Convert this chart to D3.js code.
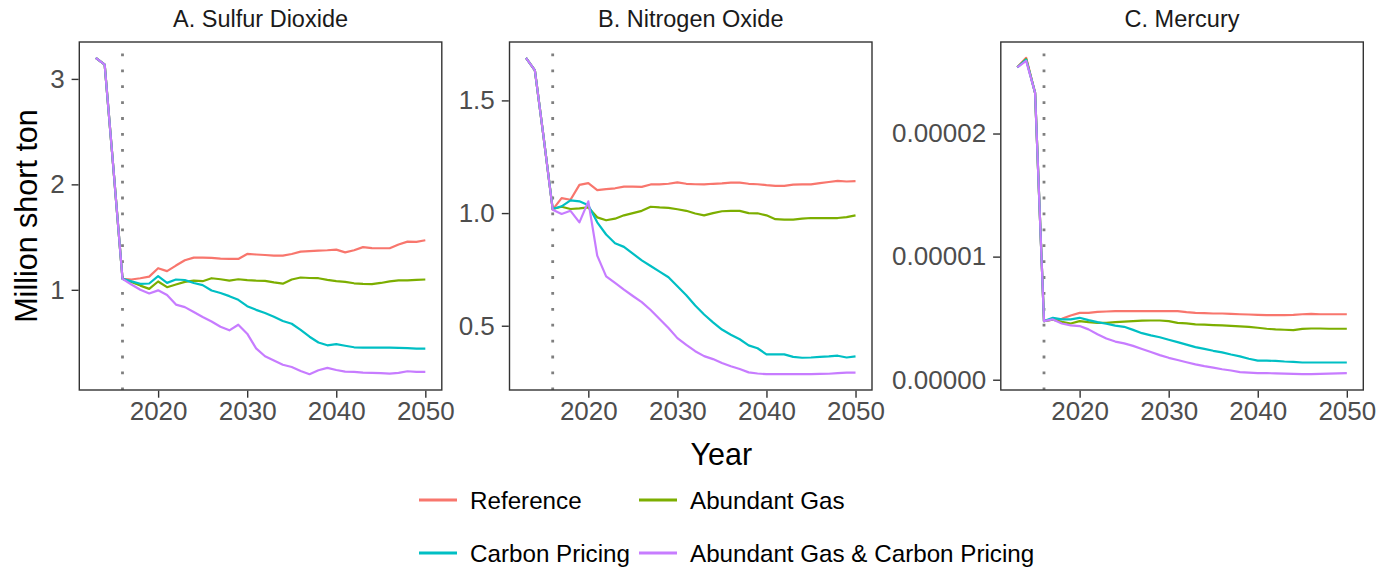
<!DOCTYPE html>
<html>
<head>
<meta charset="utf-8">
<script src="https://cdn.jsdelivr.net/npm/d3@7"></script>
<style>
  html, body { margin: 0; padding: 0; background: #fff; }
  svg { display: block; font-family: "Liberation Sans", Arial, sans-serif; }
</style>
</head>
<body>
<svg id="chart" width="1383" height="569"></svg>
<script>
// ---------- DATA ----------
const years = [2013,2014,2015,2016,2017,2018,2019,2020,2021,2022,2023,2024,2025,2026,2027,2028,2029,2030,
  2031,2032,2033,2034,2035,2036,2037,2038,2039,2040,2041,2042,2043,2044,2045,2046,2047,2048,2049,2050];
const scenarios = ["Reference", "Abundant Gas", "Carbon Pricing", "Abundant Gas & Carbon Pricing"];
const scenarioColors = ["#F8766D", "#7CAE00", "#00BFC4", "#C77CFF"];
const panelTitles = ["A. Sulfur Dioxide", "B. Nitrogen Oxide", "C. Mercury"];
const yAxisTitle = "Million short ton";
const xAxisTitle = "Year";
const xTicks = [2020, 2030, 2040, 2050];
const policyYear = 2016;

// A. Sulfur dioxide (million short tons)
const so2Reference = [3.20,3.136,2.13,1.105,1.098,1.11,1.125,1.205,1.177,1.23,1.28,1.305,1.306,1.303,1.295,1.293,1.293,1.34,
  1.335,1.33,1.324,1.325,1.34,1.362,1.367,1.372,1.375,1.381,1.355,1.375,1.405,1.395,1.394,1.394,1.43,1.457,1.455,1.47];
const so2AbundantGas = [3.20,3.136,2.13,1.105,1.075,1.04,1.009,1.079,1.025,1.05,1.075,1.088,1.082,1.11,1.1,1.088,1.1,1.092,
  1.087,1.085,1.07,1.058,1.098,1.117,1.112,1.11,1.095,1.082,1.075,1.062,1.056,1.054,1.065,1.08,1.09,1.09,1.095,1.098];
const so2CarbonPricing = [3.20,3.136,2.13,1.104,1.08,1.057,1.06,1.129,1.066,1.098,1.093,1.065,1.045,0.994,0.97,0.94,0.905,0.845,
  0.81,0.78,0.745,0.705,0.678,0.62,0.555,0.5,0.474,0.485,0.47,0.455,0.452,0.452,0.452,0.452,0.45,0.447,0.443,0.443];
const so2GasCarbon = [3.20,3.136,2.13,1.104,1.05,1.0,0.965,0.995,0.95,0.86,0.836,0.79,0.742,0.70,0.65,0.616,0.669,0.584,
  0.445,0.37,0.33,0.29,0.268,0.23,0.2,0.237,0.26,0.24,0.225,0.222,0.215,0.212,0.21,0.206,0.212,0.228,0.222,0.222];
const so2Ticks = [1, 2, 3];

// B. Nitrogen oxide (million short tons)
const noxReference = [1.689,1.633,1.33,1.015,1.066,1.059,1.125,1.133,1.102,1.106,1.11,1.117,1.117,1.116,1.127,1.127,1.13,1.136,
  1.13,1.128,1.127,1.13,1.132,1.135,1.135,1.13,1.128,1.124,1.121,1.121,1.126,1.127,1.127,1.133,1.138,1.143,1.14,1.142];
const noxAbundantGas = [1.689,1.633,1.33,1.018,1.028,1.018,1.021,1.025,0.981,0.968,0.975,0.99,1.0,1.01,1.028,1.025,1.023,1.017,
  1.01,0.998,0.99,1.0,1.008,1.01,1.01,1.0,0.999,0.99,0.973,0.971,0.971,0.975,0.978,0.978,0.978,0.978,0.982,0.99];
const noxCarbonPricing = [1.689,1.633,1.33,1.018,1.03,1.056,1.052,1.035,0.959,0.905,0.866,0.85,0.82,0.79,0.765,0.74,0.715,0.675,
  0.635,0.59,0.55,0.515,0.483,0.46,0.44,0.413,0.4,0.373,0.373,0.373,0.362,0.358,0.359,0.362,0.364,0.367,0.359,0.364];
const noxGasCarbon = [1.689,1.633,1.33,1.015,0.996,1.01,0.959,1.052,0.811,0.719,0.69,0.66,0.632,0.605,0.57,0.53,0.49,0.445,
  0.415,0.387,0.365,0.352,0.335,0.32,0.308,0.293,0.288,0.285,0.285,0.285,0.285,0.285,0.285,0.286,0.287,0.29,0.292,0.292];
const noxTicks = [0.5, 1.0, 1.5];

// C. Mercury (million short tons)
const hgReference = [2.538e-5,2.615e-5,2.33e-5,0.476e-5,0.49e-5,0.495e-5,0.522e-5,0.543e-5,0.543e-5,0.551e-5,0.554e-5,0.557e-5,
  0.557e-5,0.557e-5,0.557e-5,0.557e-5,0.557e-5,0.557e-5,0.557e-5,0.549e-5,0.543e-5,0.541e-5,0.538e-5,0.538e-5,0.535e-5,
  0.532e-5,0.53e-5,0.527e-5,0.524e-5,0.524e-5,0.524e-5,0.527e-5,0.532e-5,0.535e-5,0.532e-5,0.532e-5,0.532e-5,0.532e-5];
const hgAbundantGas = [2.538e-5,2.605e-5,2.33e-5,0.476e-5,0.488e-5,0.47e-5,0.457e-5,0.476e-5,0.468e-5,0.462e-5,0.462e-5,0.468e-5,
  0.472e-5,0.476e-5,0.48e-5,0.481e-5,0.481e-5,0.476e-5,0.462e-5,0.457e-5,0.449e-5,0.447e-5,0.444e-5,0.441e-5,0.438e-5,
  0.434e-5,0.43e-5,0.422e-5,0.414e-5,0.409e-5,0.406e-5,0.403e-5,0.413e-5,0.416e-5,0.416e-5,0.414e-5,0.414e-5,0.414e-5];
const hgCarbonPricing = [2.538e-5,2.6e-5,2.33e-5,0.476e-5,0.503e-5,0.49e-5,0.49e-5,0.503e-5,0.484e-5,0.468e-5,0.455e-5,0.44e-5,
  0.43e-5,0.405e-5,0.378e-5,0.36e-5,0.345e-5,0.325e-5,0.305e-5,0.285e-5,0.265e-5,0.25e-5,0.235e-5,0.222e-5,0.205e-5,
  0.19e-5,0.17e-5,0.155e-5,0.155e-5,0.153e-5,0.148e-5,0.145e-5,0.14e-5,0.14e-5,0.14e-5,0.14e-5,0.14e-5,0.14e-5];
const hgGasCarbon = [2.538e-5,2.59e-5,2.33e-5,0.476e-5,0.49e-5,0.457e-5,0.441e-5,0.436e-5,0.409e-5,0.37e-5,0.335e-5,0.31e-5,
  0.295e-5,0.275e-5,0.25e-5,0.225e-5,0.2e-5,0.178e-5,0.16e-5,0.142e-5,0.125e-5,0.11e-5,0.098e-5,0.085e-5,0.075e-5,
  0.062e-5,0.058e-5,0.054e-5,0.053e-5,0.052e-5,0.05e-5,0.047e-5,0.045e-5,0.045e-5,0.047e-5,0.05e-5,0.052e-5,0.054e-5];
const hgTicks = [0, 0.00001, 0.00002];

// ---------- LAYOUT ----------
const panelTop = 42, panelBottom = 390;
const panelLefts = [79.3, 509.5, 1000.8];
const panelWidth = 362.5;
const panels = [
  { title: panelTitles[0], series: [so2Reference, so2AbundantGas, so2CarbonPricing, so2GasCarbon], ticks: so2Ticks, fmt: d3.format("d") },
  { title: panelTitles[1], series: [noxReference, noxAbundantGas, noxCarbonPricing, noxGasCarbon], ticks: noxTicks, fmt: d3.format(".1f") },
  { title: panelTitles[2], series: [hgReference, hgAbundantGas, hgCarbonPricing, hgGasCarbon], ticks: hgTicks, fmt: d3.format(".5f") }
];

const svg = d3.select("#chart");
const tickLen = 7, tickColor = "#333333", labelColor = "#4D4D4D";

function padded(ext) {
  const r = ext[1] - ext[0];
  return [ext[0] - 0.05 * r, ext[1] + 0.05 * r];
}

panels.forEach((p, i) => {
  const left = panelLefts[i], right = left + panelWidth;
  const x = d3.scaleLinear().domain(padded(d3.extent(years))).range([left, right]);
  const allVals = p.series.flat();
  const y = d3.scaleLinear().domain(padded(d3.extent(allVals))).range([panelBottom, panelTop]);

  const g = svg.append("g");

  // policy year dotted line
  g.append("line")
    .attr("x1", x(policyYear)).attr("x2", x(policyYear))
    .attr("y1", panelTop).attr("y2", panelBottom)
    .attr("stroke", "#7F7F7F").attr("stroke-width", 2.8)
    .attr("stroke-dasharray", "2.8 13.1")
    .attr("stroke-dashoffset", -11.5);

  // lines
  const line = d3.line().x((d, k) => x(years[k])).y(d => y(d));
  p.series.forEach((s, k) => {
    g.append("path")
      .datum(s)
      .attr("d", line)
      .attr("fill", "none")
      .attr("stroke", scenarioColors[k])
      .attr("stroke-width", 2.2)
      .attr("stroke-linejoin", "round");
  });

  // border
  g.append("rect")
    .attr("x", left).attr("y", panelTop)
    .attr("width", panelWidth).attr("height", panelBottom - panelTop)
    .attr("fill", "none").attr("stroke", "#333333").attr("stroke-width", 1.4);

  // x axis
  const xa = g.append("g").attr("transform", `translate(0,${panelBottom + 0.7})`)
    .call(d3.axisBottom(x).tickValues(xTicks).tickFormat(d3.format("d")).tickSize(tickLen).tickPadding(4));
  xa.select(".domain").remove();
  xa.selectAll(".tick line").attr("stroke", tickColor).attr("stroke-width", 1.4);
  xa.selectAll(".tick text").attr("fill", labelColor).attr("font-size", 26)
    .attr("font-family", "Liberation Sans, Arial, sans-serif");

  // y axis
  const ya = g.append("g").attr("transform", `translate(${left - 0.7},0)`)
    .call(d3.axisLeft(y).tickValues(p.ticks).tickFormat(p.fmt).tickSize(tickLen).tickPadding(7));
  ya.select(".domain").remove();
  ya.selectAll(".tick line").attr("stroke", tickColor).attr("stroke-width", 1.4);
  ya.selectAll(".tick text").attr("fill", labelColor).attr("font-size", 26)
    .attr("font-family", "Liberation Sans, Arial, sans-serif");

  // panel title
  svg.append("text")
    .attr("x", (left + right) / 2).attr("y", 26.5)
    .attr("text-anchor", "middle")
    .attr("font-size", 23.5).attr("fill", "#1A1A1A")
    .text(p.title);
});

// axis titles
svg.append("text")
  .attr("x", (panelLefts[0] + panelLefts[2] + panelWidth) / 2).attr("y", 465)
  .attr("text-anchor", "middle").attr("font-size", 30.5).attr("fill", "#000")
  .text(xAxisTitle);

svg.append("text")
  .attr("transform", `translate(37,${(panelTop + panelBottom) / 2}) rotate(-90)`)
  .attr("text-anchor", "middle").attr("font-size", 30.5).attr("fill", "#000")
  .text(yAxisTitle);

// legend
const legendCols = [419, 639];
const legendRows = [500, 553];
scenarios.forEach((name, k) => {
  const cx = legendCols[k % 2], cy = legendRows[Math.floor(k / 2)];
  const lg = svg.append("g");
  lg.append("line")
    .attr("x1", cx).attr("x2", cx + 38)
    .attr("y1", cy).attr("y2", cy)
    .attr("stroke", scenarioColors[k]).attr("stroke-width", 2.8);
  lg.append("text")
    .attr("x", cx + 51).attr("y", cy).attr("dy", "0.36em")
    .attr("font-size", 24.2).attr("fill", "#000")
    .text(name);
});
</script>
</body>
</html>
